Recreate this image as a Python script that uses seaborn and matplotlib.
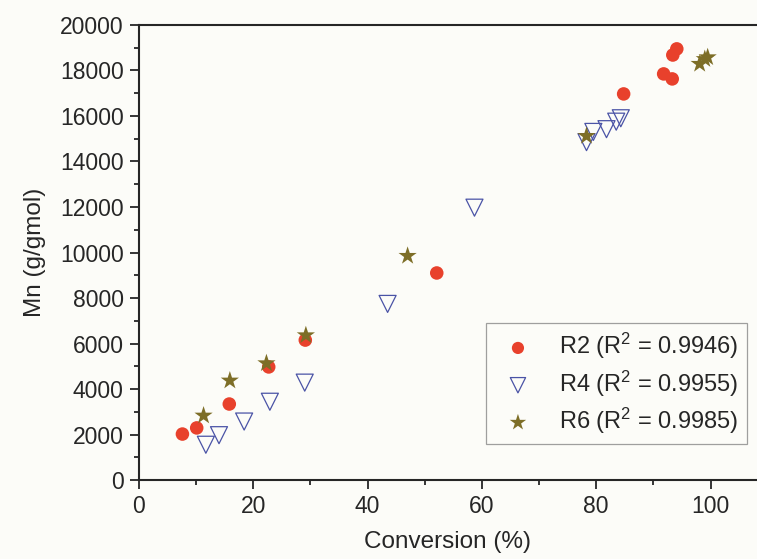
import matplotlib
matplotlib.use("Agg")
import matplotlib.pyplot as plt
from matplotlib.ticker import MultipleLocator
import seaborn as sns
import pandas as pd

# ── data ──
r2_conv = [7.6, 10.1, 15.8, 22.7, 29.1, 52.1, 84.8, 91.8, 93.3, 93.4, 94.1]
r2_mn = [2020, 2290, 3340, 4970, 6150, 9100, 16970, 17850, 17630, 18680, 18950]

r4_conv = [11.7, 14.0, 18.4, 22.9, 29.0, 43.5, 58.7, 78.3, 79.5, 81.8, 83.5, 84.3]
r4_mn = [1550, 1970, 2570, 3440, 4280, 7740, 11970, 14850, 15300, 15420, 15750, 15900]

r6_conv = [11.3, 15.9, 22.3, 29.2, 47.0, 78.3, 98.1, 99.0, 99.5]
r6_mn = [2830, 4370, 5130, 6360, 9850, 15120, 18290, 18500, 18580]

labels = ["R2 (R$^2$ = 0.9946)", "R4 (R$^2$ = 0.9955)", "R6 (R$^2$ = 0.9985)"]

bg = "#fcfcf8"
sns.set_style("ticks")
plt.rcParams["font.family"] = ["Liberation Sans", "DejaVu Sans"]
plt.rcParams["mathtext.fontset"] = "custom"
plt.rcParams["mathtext.rm"] = "Liberation Sans"
plt.rcParams["mathtext.it"] = "Liberation Sans"

fig = plt.figure(figsize=(7.57, 5.59), dpi=100, facecolor=bg)
ax = fig.add_axes([0.1836, 0.1413, 0.8154, 0.814])
ax.set_facecolor(bg)

df2 = pd.DataFrame({"conv": r2_conv, "mn": r2_mn})
df4 = pd.DataFrame({"conv": r4_conv, "mn": r4_mn})
df6 = pd.DataFrame({"conv": r6_conv, "mn": r6_mn})

sns.scatterplot(data=df2, x="conv", y="mn", ax=ax, marker="o", s=95,
                color="#e8412c", edgecolor="none", label=labels[0], zorder=3)
sns.scatterplot(data=df4, x="conv", y="mn", ax=ax, marker="v", s=150,
                facecolor="none", edgecolor="#4a53a6", linewidth=0.9,
                label=labels[1], zorder=3)
sns.scatterplot(data=df6, x="conv", y="mn", ax=ax, marker="*", s=190,
                color="#7d6e27", edgecolor="none", label=labels[2], zorder=4)

ax.set_xlim(0, 108)
ax.set_ylim(0, 20000)
ax.xaxis.set_major_locator(MultipleLocator(20))
ax.xaxis.set_minor_locator(MultipleLocator(10))
ax.yaxis.set_major_locator(MultipleLocator(2000))
ax.yaxis.set_minor_locator(MultipleLocator(1000))
ax.tick_params(which="major", length=6.5, width=1.3, labelsize=16.5,
               direction="out", pad=4.5)
ax.tick_params(which="minor", length=3.5, width=1.3, direction="out")
for sp in ax.spines.values():
    sp.set_linewidth(1.5)
ax.spines["right"].set_visible(False)

ax.set_xlabel("Conversion (%)", fontsize=17.5, labelpad=9)
ax.set_ylabel("Mn (g/gmol)", fontsize=17.5, labelpad=10)

leg = ax.legend(loc="lower right", bbox_to_anchor=(0.985, 0.079), fontsize=17,
                frameon=True, fancybox=False, edgecolor="#888888",
                handletextpad=0.75, borderpad=0.35, labelspacing=0.3,
                borderaxespad=0, markerscale=0.9)
leg.get_frame().set_linewidth(0.9)
leg.get_frame().set_facecolor(bg)

fig.savefig("out.png", dpi=100, facecolor=bg)
